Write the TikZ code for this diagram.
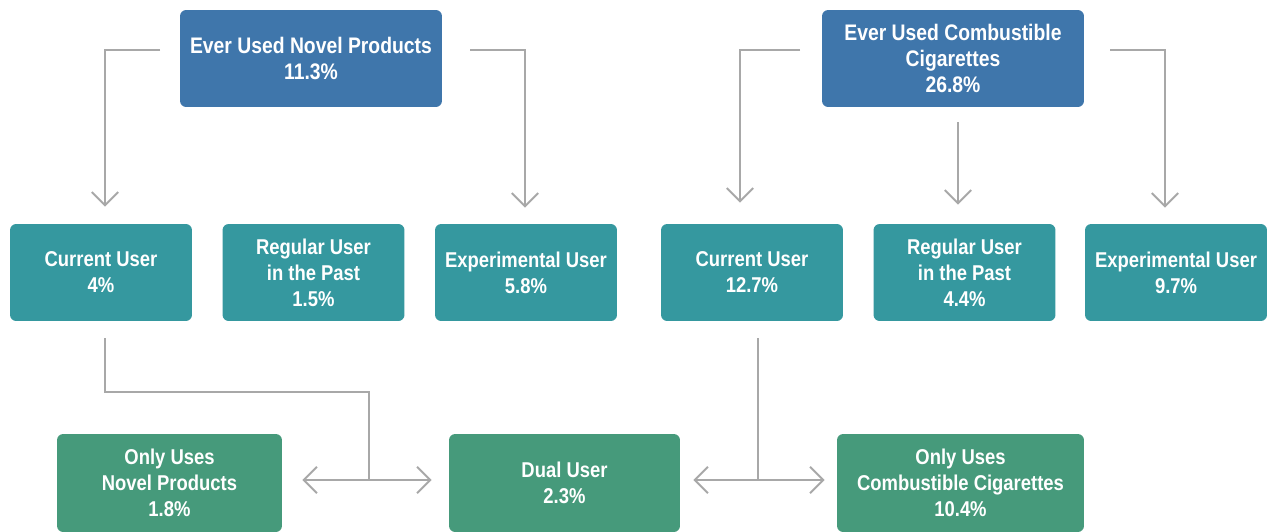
\documentclass[tikz,border=0pt]{standalone}
\usepackage{fontspec}
\setmainfont{Liberation Sans}[FakeStretch=0.86]
\usetikzlibrary{arrows.meta,calc}
\definecolor{topblue}{HTML}{3F76AB}
\definecolor{midteal}{HTML}{35989F}
\definecolor{botgreen}{HTML}{469A7B}
\definecolor{linegray}{HTML}{A8A8A8}
\tikzset{
  box/.style={rounded corners=3.5pt, text=white, align=center,
    font=\fontsize{12.2}{14.8}\selectfont\bfseries, inner sep=0pt},
  topbox/.style={box, fill=topblue, minimum width=5.24cm, minimum height=1.94cm,
    font=\fontsize{12.8}{14.8}\selectfont\bfseries},
  midbox/.style={box, fill=midteal, minimum width=3.64cm, minimum height=1.94cm},
  botbox/.style={box, fill=botgreen, minimum height=1.96cm},
  conn/.style={draw=linegray, line width=1.1pt,
    -{Straight Barb[length=7.5pt,width=15pt,line width=1.1pt]}},
  dconn/.style={draw=linegray, line width=1.1pt,
    {Straight Barb[length=7.5pt,width=15pt,line width=1.1pt]}-{Straight Barb[length=7.5pt,width=15pt,line width=1.1pt]}},
  plain/.style={draw=linegray, line width=1.1pt}
}
\begin{document}
\begin{tikzpicture}[x=0.02cm,y=-0.02cm]
\useasboundingbox[fill=white] (0,0) rectangle (1271,531);
% top boxes
\node[topbox] (tl) at (311,58.5) {Ever Used Novel Products\\11.3\%};
\node[topbox] (tr) at (953,58.5) {Ever Used Combustible\\Cigarettes\\26.8\%};
% middle row
\node[midbox] (cu1) at (101,272.5) {Current User\\4\%};
\node[midbox] (ru1) at (313.5,272.5) {Regular User\\in the Past\\1.5\%};
\node[midbox] (eu1) at (526,272.5) {Experimental User\\5.8\%};
\node[midbox] (cu2) at (752,272.5) {Current User\\12.7\%};
\node[midbox] (ru2) at (964.5,272.5) {Regular User\\in the Past\\4.4\%};
\node[midbox] (eu2) at (1176,272.5) {Experimental User\\9.7\%};
% bottom row
\node[botbox, minimum width=4.5cm] (np) at (169.5,483) {Only Uses\\Novel Products\\1.8\%};
\node[botbox, minimum width=4.62cm] (du) at (564.5,483) {Dual User\\2.3\%};
\node[botbox, minimum width=4.94cm] (cc) at (960.5,483) {Only Uses\\Combustible Cigarettes\\10.4\%};
% helper coordinates
\coordinate (tlL) at (160,50);
\coordinate (tlR) at (470,50);
\coordinate (trL) at (800,50);
\coordinate (trR) at (1110,50);
\coordinate (trB) at (958,122);
\coordinate (cu1B) at (105,338);
\coordinate (cu2B) at (758,338);
\coordinate (jl) at (369,392);
\coordinate (jlB) at (369,480);
\coordinate (jr) at (758,480);
% top connectors
\draw[conn] (tlL) -| ($(cu1.north)+(4,-17)$);
\draw[conn] (tlR) -| ($(eu1.north)+(-1,-16)$);
\draw[conn] (trL) -| ($(cu2.north)+(-12,-21)$);
\draw[conn] (trB) -- ($(ru2.north)+(-6.5,-19)$);
\draw[conn] (trR) -| ($(eu2.north)+(-11,-16)$);
% bottom connectors
\draw[plain] (cu1B) |- (jl) -- (jlB);
\draw[dconn] ($(np.east)+(20,-3)$) -- ($(du.west)+(-17,-3)$);
\draw[plain] (cu2B) -- (jr);
\draw[dconn] ($(du.east)+(13,-3)$) -- ($(cc.west)+(-12,-3)$);
\end{tikzpicture}
\end{document}
